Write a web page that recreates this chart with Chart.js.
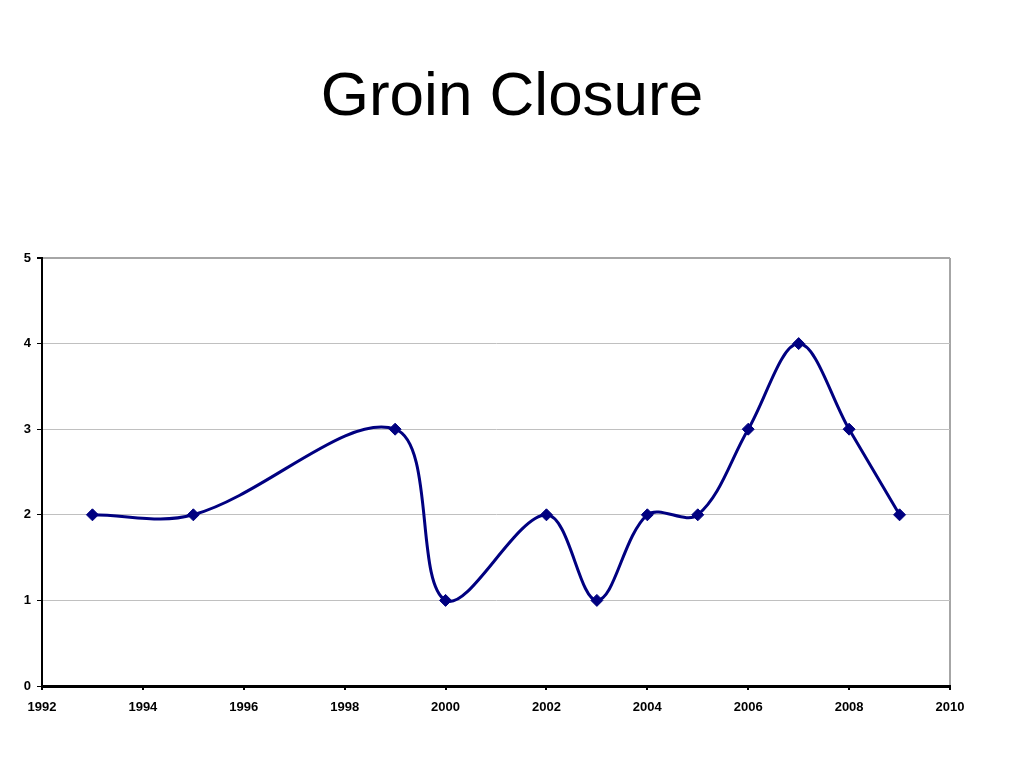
<!DOCTYPE html>
<html>
<head>
<meta charset="utf-8">
<script src="https://cdn.jsdelivr.net/npm/chart.js@4"></script>
<style>
  html, body { margin: 0; padding: 0; background: #fff; }
  #wrap { position: relative; width: 1024px; height: 768px; }
  #title { position: absolute; left: 0; top: 63px; width: 1024px; text-align: center;
    font-family: "Liberation Sans", Arial, sans-serif; font-size: 62px; color: #000; line-height: 1; }
  canvas { position: absolute; left: 0; top: 0; }
</style>
</head>
<body>
<div id="wrap">
  <canvas id="c" width="1024" height="768"></canvas>
  <div id="title">Groin Closure</div>
</div>
<script>
const years = [1993, 1995, 1999, 2000, 2002, 2003, 2004, 2005, 2006, 2007, 2008, 2009];
const values = [2, 2, 3, 1, 2, 1, 2, 2, 3, 4, 3, 2];
const xTickLabels = ['1992','1994','1996','1998','2000','2002','2004','2006','2008','2010'];
const yTickLabels = ['0','1','2','3','4','5'];

const points = years.map((y, i) => ({ x: y, y: values[i] }));
const navy = '#000080';

new Chart(document.getElementById('c'), {
  type: 'line',
  data: {
    datasets: [{
      data: points,
      borderColor: navy,
      backgroundColor: navy,
      borderWidth: 3,
      tension: 0.35,
      pointStyle: 'rectRot',
      pointRadius: 6,
      pointHoverRadius: 6,
      pointBackgroundColor: navy,
      pointBorderColor: navy,
      pointBorderWidth: 1,
      fill: false
    }]
  },
  options: {
    responsive: false,
    animation: false,
    events: [],
    layout: { padding: { left: 0, top: 258, right: 74, bottom: 46 } },
    plugins: { legend: { display: false }, tooltip: { enabled: false }, title: { display: false } },
    scales: {
      x: {
        type: 'linear',
        min: 1992, max: 2010,
        afterFit: s => { s.height = 36; },
        afterBuildTicks: s => { s.ticks = xTickLabels.map(t => ({ value: Number(t) })); },
        ticks: {
          autoSkip: false,
          maxRotation: 0,
          padding: 10,
          color: '#000',
          font: { family: '"Liberation Sans", Arial, sans-serif', size: 13, weight: 'bold' },
          callback: (v) => xTickLabels.includes(String(v)) ? String(v) : ''
        },
        grid: {
          color: c => (c.tick && c.tick.value === 2010) ? '#a6a6a6' : 'rgba(0,0,0,0)',
          lineWidth: 2,
          tickColor: '#000',
          tickLength: 4,
          drawOnChartArea: true
        },
        border: { display: true, color: '#000', width: 3 }
      },
      y: {
        min: 0, max: 5,
        afterFit: s => { s.width = 42; },
        ticks: {
          stepSize: 1,
          padding: 6,
          color: '#000',
          font: { family: '"Liberation Sans", Arial, sans-serif', size: 13, weight: 'bold' },
          callback: (v) => yTickLabels[v] !== undefined ? yTickLabels[v] : ''
        },
        grid: {
          color: c => (c.tick && c.tick.value === 0) ? 'rgba(0,0,0,0)' : (c.tick && c.tick.value === 5 ? '#a6a6a6' : '#c0c0c0'),
          lineWidth: c => (c.tick && c.tick.value === 5) ? 2 : 1,
          tickColor: '#000',
          tickLength: 5
        },
        border: { display: true, color: '#000', width: 2 }
      }
    }
  }
});
</script>
</body>
</html>
